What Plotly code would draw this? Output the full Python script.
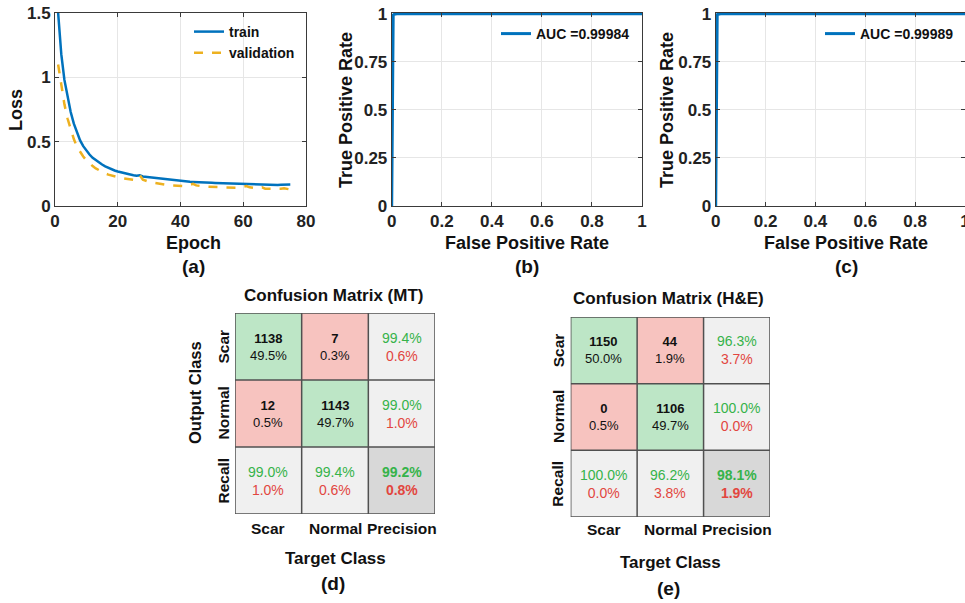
import plotly.graph_objects as go

W, H = 965, 603

# ---------------- data ----------------
epochs = list(range(1, 76))
train_loss = [1.50, 1.18, 0.98, 0.84, 0.73, 0.64, 0.57, 0.51, 0.465, 0.43,
              0.40, 0.375, 0.355, 0.337, 0.322, 0.308, 0.296, 0.285, 0.276, 0.268,
              0.261, 0.255, 0.249, 0.244, 0.239, 0.235, 0.238, 0.229, 0.226, 0.223,
              0.219, 0.216, 0.213, 0.210, 0.207, 0.204, 0.201, 0.198, 0.195, 0.192,
              0.191, 0.189, 0.188, 0.187, 0.185, 0.184, 0.183, 0.182, 0.181, 0.180,
              0.179, 0.178, 0.177, 0.176, 0.176, 0.175, 0.174, 0.173, 0.172, 0.171,
              0.171, 0.170, 0.170, 0.169, 0.168, 0.168, 0.167, 0.167, 0.166, 0.165,
              0.164, 0.166, 0.168, 0.169, 0.167]
val_loss = [1.10, 0.93, 0.79, 0.68, 0.59, 0.52, 0.46, 0.42, 0.385, 0.355,
            0.33, 0.31, 0.292, 0.277, 0.264, 0.253, 0.244, 0.236, 0.229, 0.223,
            0.218, 0.214, 0.210, 0.206, 0.203, 0.212, 0.240, 0.205, 0.195, 0.188,
            0.182, 0.177, 0.172, 0.168, 0.165, 0.162, 0.160, 0.158, 0.156, 0.155,
            0.155, 0.158, 0.165, 0.172, 0.160, 0.155, 0.152, 0.150, 0.149, 0.148,
            0.147, 0.146, 0.145, 0.145, 0.144, 0.143, 0.143, 0.142, 0.145, 0.152,
            0.155, 0.145, 0.140, 0.138, 0.137, 0.145, 0.135, 0.134, 0.133, 0.132,
            0.131, 0.135, 0.138, 0.133, 0.128]

roc_b_fpr = [0, 0.003, 0.004, 0.006, 0.01, 0.02, 1.0]
roc_b_tpr = [0, 0.96, 0.985, 0.993, 0.997, 1.0, 1.0]
roc_b_label = "AUC =0.99984"
roc_c_fpr = [0, 0.003, 0.004, 0.006, 0.01, 0.02, 1.0]
roc_c_tpr = [0, 0.97, 0.99, 0.995, 0.998, 1.0, 1.0]
roc_c_label = "AUC =0.99989"

classes = ["Scar", "Normal"]
col_labels = ["Scar", "Normal", "Precision"]
row_labels = ["Scar", "Normal", "Recall"]

mt_counts = [[1138, 7], [12, 1143]]
mt_pct = [[49.5, 0.3], [0.5, 49.7]]
mt_precision = [99.4, 99.0]
mt_recall = [99.0, 99.4]
mt_accuracy = 99.2

he_counts = [[1150, 44], [0, 1106]]
he_pct = [[50.0, 1.9], [0.5, 49.7]]
he_precision = [96.3, 100.0]
he_recall = [100.0, 96.2]
he_accuracy = 98.1

# ---------------- styles ----------------
FONT = "Liberation Sans"
BLUE = "#0072BD"
ORANGE = "#EDB120"
GREEN_TXT = "#36b34a"
RED_TXT = "#e2463f"
CELL_GREEN = "#bde6c6"
CELL_RED = "#f7c3bf"
CELL_GRAY = "#f0f0f0"
CELL_DARK = "#d8d8d8"
AX = "#3a3a3a"
GRID = "#e6e6e6"


def px(x):
    return x / W


def py(y):
    return 1 - y / H


fig = go.Figure()

# ---- (a) loss ----
fig.add_trace(go.Scatter(x=epochs, y=train_loss, mode="lines", name="train",
                         line=dict(color=BLUE, width=2.5), xaxis="x", yaxis="y",
                         legend="legend"))
fig.add_trace(go.Scatter(x=epochs, y=val_loss, mode="lines", name="validation",
                         line=dict(color=ORANGE, width=2.5, dash="dash"),
                         xaxis="x", yaxis="y", legend="legend"))
# ---- (b), (c) ROC ----
fig.add_trace(go.Scatter(x=roc_b_fpr, y=roc_b_tpr, mode="lines", name=roc_b_label,
                         line=dict(color=BLUE, width=3), xaxis="x2", yaxis="y2",
                         legend="legend2"))
fig.add_trace(go.Scatter(x=roc_c_fpr, y=roc_c_tpr, mode="lines", name=roc_c_label,
                         line=dict(color=BLUE, width=3), xaxis="x3", yaxis="y3",
                         legend="legend3"))

# ---- confusion matrices ----
cm_colorscale = [[0, CELL_GREEN], [1 / 6, CELL_GREEN], [1 / 6, CELL_RED], [0.5, CELL_RED],
                 [0.5, CELL_GRAY], [5 / 6, CELL_GRAY], [5 / 6, CELL_DARK], [1, CELL_DARK]]


def cm_kind(n):
    kinds = []
    for r in range(n + 1):
        row = []
        for c in range(n + 1):
            if r == n and c == n:
                row.append(3)
            elif r == n or c == n:
                row.append(2)
            elif r == c:
                row.append(0)
            else:
                row.append(1)
        kinds.append(row)
    return kinds


annotations = []
shapes = []


def fmt(v):
    return f"{v:.1f}%"


def add_cm(counts, pct, precision, recall, accuracy, xa, ya):
    n = len(counts)
    fig.add_trace(go.Heatmap(z=cm_kind(n), x=list(range(n + 1)), y=list(range(n + 1)),
                             colorscale=cm_colorscale, zmin=0, zmax=3, showscale=False,
                             hoverinfo="skip", xaxis=xa, yaxis=ya))
    xr, yr = xa, ya
    for r in range(n):
        for c in range(n):
            annotations.append(dict(x=c, y=r, xref=xr, yref=yr, showarrow=False,
                                    text=f"<b>{counts[r][c]}</b><br>{fmt(pct[r][c])}",
                                    font=dict(family=FONT, size=13, color="#111")))
    for r in range(n):
        annotations.append(dict(x=n, y=r, xref=xr, yref=yr, showarrow=False,
                                text=f"<span style='color:{GREEN_TXT}'>{fmt(precision[r])}</span><br>"
                                     f"<span style='color:{RED_TXT}'>{fmt(100 - precision[r])}</span>",
                                font=dict(family=FONT, size=14)))
    for c in range(n):
        annotations.append(dict(x=c, y=n, xref=xr, yref=yr, showarrow=False,
                                text=f"<span style='color:{GREEN_TXT}'>{fmt(recall[c])}</span><br>"
                                     f"<span style='color:{RED_TXT}'>{fmt(100 - recall[c])}</span>",
                                font=dict(family=FONT, size=14)))
    annotations.append(dict(x=n, y=n, xref=xr, yref=yr, showarrow=False,
                            text=f"<b><span style='color:{GREEN_TXT}'>{fmt(accuracy)}</span><br>"
                                 f"<span style='color:{RED_TXT}'>{fmt(100 - accuracy)}</span></b>",
                            font=dict(family=FONT, size=14)))
    for k in range(n + 2):
        b = k - 0.5
        shapes.append(dict(type="line", xref=xr, yref=yr, x0=b, x1=b, y0=-0.5, y1=n + 0.5,
                           line=dict(color="#505050", width=1.5)))
        shapes.append(dict(type="line", xref=xr, yref=yr, y0=b, y1=b, x0=-0.5, x1=n + 0.5,
                           line=dict(color="#505050", width=1.5)))


add_cm(mt_counts, mt_pct, mt_precision, mt_recall, mt_accuracy, "x4", "y4")
add_cm(he_counts, he_pct, he_precision, he_recall, he_accuracy, "x5", "y5")

# ---------------- axes ----------------
tickfont = dict(family=FONT, size=17, color="#222", weight="bold")


def line_axis(domain, rng, tickvals, anchor):
    return dict(domain=domain, range=rng, tickvals=tickvals, anchor=anchor,
                showline=True, linecolor=AX, linewidth=1, mirror="ticks",
                ticks="inside", ticklen=4, tickcolor=AX, showgrid=True,
                gridcolor=GRID, gridwidth=1, zeroline=False, tickfont=tickfont,
                ticklabeloverflow="allow", automargin=False, fixedrange=True)


ya_dom = [py(206), py(13)]
layout = dict(
    width=W, height=H, margin=dict(l=0, r=0, t=0, b=0),
    paper_bgcolor="white", plot_bgcolor="white", template="none",
    font=dict(family=FONT, color="#222"),
    xaxis=line_axis([px(55), px(306)], [0, 80], [0, 20, 40, 60, 80], "y"),
    yaxis=line_axis(ya_dom, [0, 1.5], [0, 0.5, 1, 1.5], "x"),
    xaxis2=line_axis([px(391.7), px(642)], [0, 1], [0, 0.2, 0.4, 0.6, 0.8, 1], "y2"),
    yaxis2=line_axis(ya_dom, [0, 1.004], [0, 0.25, 0.5, 0.75, 1], "x2"),
    xaxis3=line_axis([px(715.7), 1.0], [0, 1], [0, 0.2, 0.4, 0.6, 0.8, 1], "y3"),
    yaxis3=line_axis(ya_dom, [0, 1.004], [0, 0.25, 0.5, 0.75, 1], "x3"),
)
for i, (xd, yd) in zip([4, 5], [([px(235), px(435)], [py(514), py(313)]),
                                ([px(570.7), px(770)], [py(517), py(317)])]):
    layout[f"xaxis{i}"] = dict(domain=xd, range=[-0.5, 2.5], anchor=f"y{i}", visible=False,
                               showgrid=False, zeroline=False, fixedrange=True)
    layout[f"yaxis{i}"] = dict(domain=yd, range=[2.5, -0.5], anchor=f"x{i}", visible=False,
                               showgrid=False, zeroline=False, fixedrange=True)

legfont = dict(family=FONT, size=14, color="#111", weight="bold")
layout["legend"] = dict(x=px(189), y=py(16), xanchor="left", yanchor="top",
                        bgcolor="rgba(0,0,0,0)", font=legfont, itemwidth=30,
                        tracegroupgap=0)
layout["legend2"] = dict(x=px(496), y=py(18), xanchor="left", yanchor="top",
                         bgcolor="rgba(0,0,0,0)", font=legfont, itemwidth=30)
layout["legend3"] = dict(x=px(820), y=py(18), xanchor="left", yanchor="top",
                         bgcolor="rgba(0,0,0,0)", font=legfont, itemwidth=30)


def txt(text, x, y, size, angle=0, bold=True, xref="paper", yref="paper"):
    annotations.append(dict(text=f"<b>{text}</b>" if bold else text, x=x, y=y,
                            xref=xref, yref=yref, showarrow=False, textangle=angle,
                            xanchor="center", yanchor="middle",
                            font=dict(family=FONT, size=size, color="#111")))


# panel titles
txt("Loss", px(16), py(110), 18, -90)
txt("Epoch", px(193), py(243), 18)
txt("(a)", px(193), py(266), 19)
txt("True Positive Rate", px(346), py(110), 18, -90)
txt("False Positive Rate", px(527), py(243), 18)
txt("(b)", px(527), py(266), 19)
txt("True Positive Rate", px(667), py(110), 18, -90)
txt("False Positive Rate", px(846), py(243), 18)
txt("(c)", px(846), py(266), 19)

# confusion matrix labels
txt("Confusion Matrix (MT)", px(333), py(295), 17)
txt("Output Class", px(195), py(393), 16.5, -90)
for r, lab in enumerate(row_labels):
    txt(lab, px(223), r, 15.5, -90, yref="y4")
for c, lab in enumerate(col_labels):
    txt(lab, c, py(528), 15.5, xref="x4")
txt("Target Class", px(335), py(558), 17)
txt("(d)", px(333), py(583), 19)

txt("Confusion Matrix (H&E)", px(668), py(298), 17)
for r, lab in enumerate(row_labels):
    txt(lab, px(558), r, 15.5, -90, yref="y5")
for c, lab in enumerate(col_labels):
    txt(lab, c, py(529), 15.5, xref="x5")
txt("Target Class", px(670), py(562), 17)
txt("(e)", px(668), py(588), 19)

layout["annotations"] = annotations
layout["shapes"] = shapes
fig.update_layout(**layout)

# remove the default 8px page margin so the figure sits at the window's origin
fig.write_html("out.html", config={"displayModeBar": False},
               post_script="document.body.style.margin='0px';")
